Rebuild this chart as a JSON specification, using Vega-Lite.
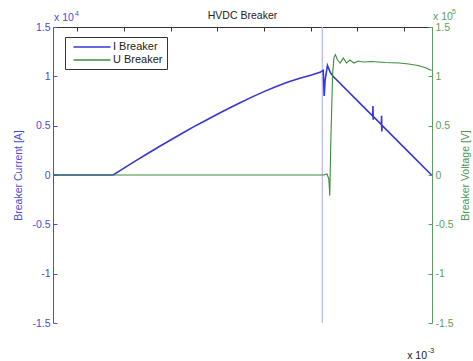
{
  "$schema": "https://vega.github.io/schema/vega-lite/v6.json",
  "width": 379,
  "height": 296,
  "autosize": {"type": "none"},
  "padding": {"left": 53, "top": 27, "right": 41, "bottom": 38},
  "background": "white",
  "config": {"font": "Liberation Sans", "view": {"stroke": null}},
  "title": {"text": "HVDC Breaker", "fontSize": 10.5, "fontWeight": "normal", "color": "#222222", "offset": 9, "dy": 22, "anchor": "middle"},
  "datasets": {
    "current": [
      {"series": "I Breaker", "t": 1.48, "I": 0},
      {"series": "I Breaker", "t": 2.0, "I": 0},
      {"series": "I Breaker", "t": 2.5, "I": 0},
      {"series": "I Breaker", "t": 2.77, "I": 0},
      {"series": "I Breaker", "t": 3.0, "I": 0.07},
      {"series": "I Breaker", "t": 3.25, "I": 0.143},
      {"series": "I Breaker", "t": 3.5, "I": 0.215},
      {"series": "I Breaker", "t": 3.75, "I": 0.286},
      {"series": "I Breaker", "t": 4.0, "I": 0.355},
      {"series": "I Breaker", "t": 4.25, "I": 0.423},
      {"series": "I Breaker", "t": 4.5, "I": 0.49},
      {"series": "I Breaker", "t": 4.75, "I": 0.553},
      {"series": "I Breaker", "t": 5.0, "I": 0.615},
      {"series": "I Breaker", "t": 5.25, "I": 0.676},
      {"series": "I Breaker", "t": 5.5, "I": 0.735},
      {"series": "I Breaker", "t": 5.75, "I": 0.792},
      {"series": "I Breaker", "t": 6.0, "I": 0.845},
      {"series": "I Breaker", "t": 6.25, "I": 0.894},
      {"series": "I Breaker", "t": 6.5, "I": 0.94},
      {"series": "I Breaker", "t": 6.75, "I": 0.977},
      {"series": "I Breaker", "t": 7.0, "I": 1.01},
      {"series": "I Breaker", "t": 7.2, "I": 1.04},
      {"series": "I Breaker", "t": 7.27, "I": 1.06},
      {"series": "I Breaker", "t": 7.29, "I": 0.8},
      {"series": "I Breaker", "t": 7.31, "I": 0.96},
      {"series": "I Breaker", "t": 7.36, "I": 1.11},
      {"series": "I Breaker", "t": 7.42, "I": 1.04},
      {"series": "I Breaker", "t": 7.48, "I": 1.0},
      {"series": "I Breaker", "t": 8.0, "I": 0.754},
      {"series": "I Breaker", "t": 8.33, "I": 0.597},
      {"series": "I Breaker", "t": 8.335, "I": 0.7},
      {"series": "I Breaker", "t": 8.34, "I": 0.56},
      {"series": "I Breaker", "t": 8.345, "I": 0.592},
      {"series": "I Breaker", "t": 8.515, "I": 0.51},
      {"series": "I Breaker", "t": 8.52, "I": 0.6},
      {"series": "I Breaker", "t": 8.525, "I": 0.44},
      {"series": "I Breaker", "t": 8.53, "I": 0.503},
      {"series": "I Breaker", "t": 9.0, "I": 0.28},
      {"series": "I Breaker", "t": 9.59, "I": 0.0}
    ],
    "voltage": [
      {"series": "U Breaker", "t": 1.48, "U": 0},
      {"series": "U Breaker", "t": 7.28, "U": 0},
      {"series": "U Breaker", "t": 7.35, "U": 0.01},
      {"series": "U Breaker", "t": 7.39, "U": -0.04},
      {"series": "U Breaker", "t": 7.41, "U": -0.21},
      {"series": "U Breaker", "t": 7.43, "U": 0.3},
      {"series": "U Breaker", "t": 7.47, "U": 1.02},
      {"series": "U Breaker", "t": 7.5, "U": 1.19},
      {"series": "U Breaker", "t": 7.53, "U": 1.22},
      {"series": "U Breaker", "t": 7.57, "U": 1.17},
      {"series": "U Breaker", "t": 7.63, "U": 1.135},
      {"series": "U Breaker", "t": 7.7, "U": 1.185},
      {"series": "U Breaker", "t": 7.77, "U": 1.135},
      {"series": "U Breaker", "t": 7.84, "U": 1.165},
      {"series": "U Breaker", "t": 7.93, "U": 1.135},
      {"series": "U Breaker", "t": 8.02, "U": 1.155},
      {"series": "U Breaker", "t": 8.12, "U": 1.145},
      {"series": "U Breaker", "t": 8.3, "U": 1.15},
      {"series": "U Breaker", "t": 8.6, "U": 1.14},
      {"series": "U Breaker", "t": 8.9, "U": 1.135},
      {"series": "U Breaker", "t": 9.1, "U": 1.125},
      {"series": "U Breaker", "t": 9.3, "U": 1.11},
      {"series": "U Breaker", "t": 9.45, "U": 1.09},
      {"series": "U Breaker", "t": 9.59, "U": 1.06}
    ],
    "trip": [{"t": 7.25}]
  },
  "layer": [
    {
      "layer": [
        {
          "data": {"name": "trip"},
          "mark": {"type": "rule", "color": "#b4b8f4", "strokeWidth": 1.2},
          "encoding": {
            "x": {"field": "t", "type": "quantitative", "scale": {"domain": [1.48, 9.6], "nice": false, "zero": false}, "axis": null}
          }
        },
        {
          "data": {"name": "current"},
          "mark": {"type": "line", "strokeWidth": 1.6},
          "encoding": {
            "x": {"field": "t", "type": "quantitative", "scale": {"domain": [1.48, 9.6], "nice": false, "zero": false},
              "axis": {"orient": "bottom", "values": [2, 3, 4, 5, 6, 7, 8, 9], "format": "d", "grid": false,
                "domainColor": "#333333", "tickColor": "#333333", "tickSize": -4, "labelPadding": 9,
                "labelColor": "#222222", "labelFontSize": 10.5, "title": "Time [s]", "titleFontWeight": "normal",
                "titleFontSize": 10.5, "titleColor": "#222222", "titlePadding": 3}},
            "y": {"field": "I", "type": "quantitative", "scale": {"domain": [-1.5, 1.5], "nice": false, "zero": false},
              "axis": {"orient": "left", "values": [-1.5, -1, -0.5, 0, 0.5, 1, 1.5], "labelExpr": "datum.value + ''", "grid": false,
                "domainColor": "#4b4bd8", "tickColor": "#4b4bd8", "tickSize": -4, "labelPadding": 7,
                "labelColor": "#4b4bd8", "labelFontSize": 10.5, "title": "Breaker Current [A]", "titleFontWeight": "normal",
                "titleFontSize": 10.5, "titleColor": "#4b4bd8", "titlePadding": 8}},
            "color": {"field": "series", "type": "nominal",
              "scale": {"domain": ["I Breaker", "U Breaker"], "range": ["#3636d6", "#3e8c3e"]},
              "legend": {"orient": "none", "legendX": 12, "legendY": 10, "title": null,
                "symbolType": "M-3.7,0H3.7", "symbolSize": 100, "symbolStrokeWidth": 1.3,
                "labelFontSize": 11, "labelColor": "#222222", "padding": 4, "symbolOffset": 17,
                "labelOffset": 15, "rowPadding": 2, "fillColor": "white", "strokeColor": "#333333"}}
          }
        },
        {
          "data": {"values": [{}]},
          "mark": {"type": "text", "text": "x 10", "fontSize": 10.5, "color": "#4b4bd8", "align": "left", "baseline": "alphabetic", "dx": 1, "dy": -6},
          "encoding": {"x": {"datum": 1.48, "type": "quantitative"}, "y": {"datum": 1.5, "type": "quantitative"}}
        },
        {
          "data": {"values": [{}]},
          "mark": {"type": "text", "text": "4", "fontSize": 7, "color": "#4b4bd8", "align": "left", "baseline": "alphabetic", "dx": 22, "dy": -11},
          "encoding": {"x": {"datum": 1.48, "type": "quantitative"}, "y": {"datum": 1.5, "type": "quantitative"}}
        },
        {
          "data": {"values": [{}]},
          "mark": {"type": "text", "text": "x 10", "fontSize": 10.5, "color": "#222222", "align": "right", "baseline": "alphabetic", "dx": -5, "dy": 36},
          "encoding": {"x": {"datum": 9.6, "type": "quantitative"}, "y": {"datum": -1.5, "type": "quantitative"}}
        },
        {
          "data": {"values": [{}]},
          "mark": {"type": "text", "text": "-3", "fontSize": 7, "color": "#222222", "align": "left", "baseline": "alphabetic", "dx": -4, "dy": 30},
          "encoding": {"x": {"datum": 9.6, "type": "quantitative"}, "y": {"datum": -1.5, "type": "quantitative"}}
        }
      ]
    },
    {
      "layer": [
        {
          "data": {"name": "voltage"},
          "mark": {"type": "line", "strokeWidth": 1.1},
          "encoding": {
            "x": {"field": "t", "type": "quantitative", "scale": {"domain": [1.48, 9.6], "nice": false, "zero": false},
              "axis": {"orient": "top", "values": [2, 3, 4, 5, 6, 7, 8, 9], "labels": false, "title": null, "grid": false,
                "domainColor": "#333333", "tickColor": "#333333", "tickSize": -4}},
            "y": {"field": "U", "type": "quantitative", "scale": {"domain": [-1.5, 1.5], "nice": false, "zero": false},
              "axis": {"orient": "right", "values": [-1.5, -1, -0.5, 0, 0.5, 1, 1.5], "labelExpr": "datum.value + ''", "grid": false,
                "domainColor": "#5f9d5f", "tickColor": "#5f9d5f", "tickSize": -4, "labelPadding": 7,
                "labelColor": "#5f9d5f", "labelFontSize": 10.5, "title": "Breaker Voltage [V]", "titleFontWeight": "normal",
                "titleFontSize": 10.5, "titleColor": "#4a9a4a", "titlePadding": 17, "titleAngle": 270}},
            "color": {"field": "series", "type": "nominal", "legend": null}
          }
        },
        {
          "data": {"values": [{}]},
          "mark": {"type": "text", "text": "x 10", "fontSize": 10.5, "color": "#5f9d5f", "align": "left", "baseline": "alphabetic", "dx": 1, "dy": -7},
          "encoding": {"x": {"datum": 9.6, "type": "quantitative"}, "y": {"datum": 1.5, "type": "quantitative"}}
        },
        {
          "data": {"values": [{}]},
          "mark": {"type": "text", "text": "5", "fontSize": 7, "color": "#5f9d5f", "align": "left", "baseline": "alphabetic", "dx": 20, "dy": -13},
          "encoding": {"x": {"datum": 9.6, "type": "quantitative"}, "y": {"datum": 1.5, "type": "quantitative"}}
        }
      ]
    }
  ],
  "resolve": {"scale": {"y": "independent"}, "axis": {"x": "independent"}}
}
